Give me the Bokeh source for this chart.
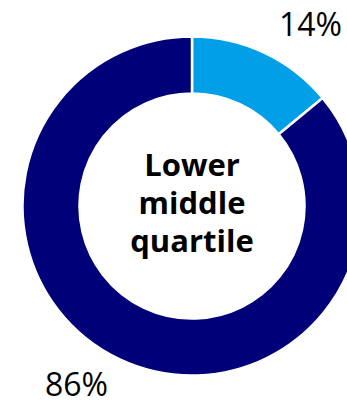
import numpy as np
from bokeh.plotting import figure
from bokeh.models import ColumnDataSource
from bokeh.core.properties import value
from bokeh.embed import file_html
from bokeh.resources import INLINE

categories = ["Women", "Men"]
shares = [14, 86]
colors = ["#009FE8", "#000078"]
labels = ["14%", "86%"]
center_lines = ["Lower", "middle", "quartile"]

W, H = 347, 404
cx, cy = 191.5, H - 205.5
r_out, r_in = 169.5, 112.5

frac = np.array(shares, dtype=float) / sum(shares)
ends = np.cumsum(frac)
starts = ends - frac
start_angle = np.pi / 2 - starts * 2 * np.pi
end_angle = np.pi / 2 - ends * 2 * np.pi

src = ColumnDataSource(dict(cat=categories, start=start_angle, end=end_angle, color=colors))

p = figure(width=W, height=H, x_range=(0, W), y_range=(0, H),
           output_backend="svg", toolbar_location=None, min_border=0)
p.axis.visible = False
p.grid.visible = False
p.outline_line_color = None
p.background_fill_color = "white"
p.border_fill_color = "white"

p.annular_wedge(x=cx, y=cy, inner_radius=r_in, outer_radius=r_out,
                start_angle="start", end_angle="end", direction="clock",
                fill_color="color", line_color="white", line_width=2.5, source=src)

lab_src = ColumnDataSource(dict(x=[310, 76], y=[H - 23, H - 383], t=labels))
p.text(x="x", y="y", text="t", source=lab_src, text_font=value("Open Sans"),
       text_font_size="32px", text_align="center", text_baseline="middle",
       text_color="black")

cl_src = ColumnDataSource(dict(x=[cx] * 3, y=[H - 163, H - 201, H - 239], t=center_lines))
p.text(x="x", y="y", text="t", source=cl_src, text_font=value("Open Sans"),
       text_font_size="31px", text_font_style="bold", text_align="center",
       text_baseline="middle", text_color="black")

open("out.html", "w").write(file_html(p, INLINE))
